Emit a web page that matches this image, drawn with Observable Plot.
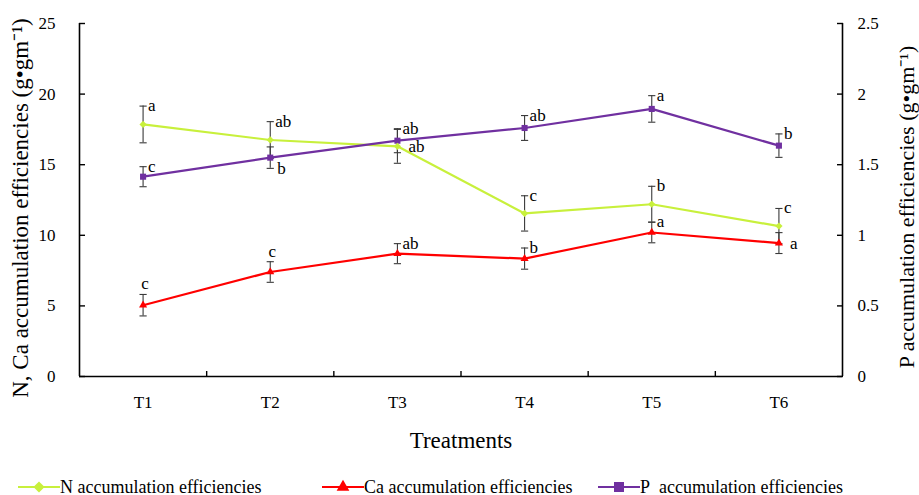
<!DOCTYPE html>
<html>
<head>
<meta charset="utf-8">
<script src="https://cdn.jsdelivr.net/npm/d3@7"></script>
<script src="https://cdn.jsdelivr.net/npm/@observablehq/plot@0.6"></script>
<style>
  html, body { margin: 0; padding: 0; background: #fff; }
  body { width: 919px; font-family: "Liberation Serif", "Times New Roman", serif; }
  #legend { position: relative; height: 33px; }
  .item { position: absolute; top: 15px; height: 20px; display: flex; align-items: center; font-size: 18px; color: #000; white-space: pre; }
  .item svg { display: block; }
</style>
</head>
<body>
<div id="chart"></div>
<div id="legend"></div>
<script>
// ---- data ----
const treatments = ["T1", "T2", "T3", "T4", "T5", "T6"];

const nValues  = [17.85, 16.75, 16.3, 11.55, 12.2, 10.65];
const nErrors  = [1.3, 1.3, 1.2, 1.25, 1.27, 1.25];
const nLetters = ["a", "ab", "ab", "c", "b", "c"];
const nPlaces  = ["topRight", "topRight", "right", "topRight", "topRight", "topRight"];

const caValues  = [5.05, 7.4, 8.7, 8.35, 10.2, 9.45];
const caErrors  = [0.76, 0.73, 0.71, 0.75, 0.73, 0.74];
const caLetters = ["c", "c", "ab", "b", "a", "a"];
const caPlaces  = ["top", "top", "topRight", "topRight", "topRight", "right"];

const pValues  = [1.415, 1.55, 1.67, 1.76, 1.895, 1.635];
const pErrors  = [0.071, 0.076, 0.085, 0.088, 0.094, 0.083];
const pLetters = ["c", "b", "ab", "ab", "a", "b"];
const pPlaces  = ["topRight", "bottomRight", "topRight", "topRight", "topRight", "topRight"];

const leftTicks  = [0, 5, 10, 15, 20, 25];
const rightTicks = [0, 0.5, 1, 1.5, 2, 2.5];

const seriesNames  = ["N", "Ca", "P"];
const seriesColors = ["#c8f03c", "#ff0000", "#7030a0"];
const seriesSymbols = ["diamond2", "triangle", "square"];
const legendLabels = ["N accumulation efficiencies", "Ca accumulation efficiencies", "P\u00a0 accumulation efficiencies"];

const leftTitle  = "N, Ca accumulation efficiencies (g\u2022gm\u207b\u00b9)";
const rightTitle = "P accumulation efficiencies (g\u2022gm\u207b\u00b9)";
const xTitle = "Treatments";

// ---- build table ----
const k = leftTicks[leftTicks.length - 1] / rightTicks[rightTicks.length - 1];
const series = [
  {key: "N",  values: nValues,  errors: nErrors,  letters: nLetters,  places: nPlaces,  f: 1},
  {key: "Ca", values: caValues, errors: caErrors, letters: caLetters, places: caPlaces, f: 1},
  {key: "P",  values: pValues,  errors: pErrors,  letters: pLetters,  places: pPlaces,  f: k}
];
const rows = series.flatMap(s => treatments.map((t, i) => ({
  t: i + 1, name: t, series: s.key,
  v: s.values[i] * s.f, e: s.errors[i] * s.f,
  letter: s.letters[i], place: s.places[i]
})));
const caps = rows.flatMap(d => [{t: d.t, y: d.v - d.e}, {t: d.t, y: d.v + d.e}]);
const boundaries = treatments.slice(1).map((t, i) => i + 1.5);

const capSymbol = {draw(ctx, size) { const r = Math.sqrt(size / Math.PI); ctx.moveTo(-r, 0); ctx.lineTo(r, 0); }};
const errColor = "#3a3a3a";
const font = "Liberation Serif";

const letterStyle = {x: "t", text: "letter", fontSize: 17, fill: "#000", fontFamily: font};

const chart = Plot.plot({
  width: 919, height: 462,
  marginLeft: 79, marginRight: 77, marginTop: 23, marginBottom: 86,
  style: {fontFamily: font, background: "#fff", color: "#000", overflow: "visible"},
  x: {domain: [0.5, treatments.length + 0.5], axis: null, label: null},
  y: {domain: [leftTicks[0], leftTicks[leftTicks.length - 1]], axis: null, label: null},
  color: {domain: seriesNames, range: seriesColors},
  symbol: {domain: seriesNames, range: seriesSymbols},
  marks: [
    // axis lines
    Plot.ruleY([leftTicks[0]], {stroke: "#000", strokeWidth: 1.6}),
    Plot.ruleX([0.5, treatments.length + 0.5], {stroke: "#000", strokeWidth: 1.6}),
    // inward ticks
    Plot.axisY({anchor: "left", ticks: leftTicks, tickSize: 6, dx: 6, tickFormat: () => "", label: null, stroke: "#000", strokeWidth: 1.4}),
    Plot.axisY({anchor: "right", ticks: leftTicks, tickSize: 6, dx: -6, tickFormat: () => "", label: null, stroke: "#000", strokeWidth: 1.4}),
    Plot.axisX({anchor: "bottom", ticks: boundaries, tickSize: 5, dy: -5, tickFormat: () => "", label: null, stroke: "#000", strokeWidth: 1.4}),
    // tick labels
    Plot.axisY({anchor: "left", ticks: leftTicks, tickSize: 0, tickPadding: 24, fontSize: 17, fill: "#000", label: null}),
    Plot.axisY({anchor: "right", ticks: leftTicks, tickSize: 0, tickPadding: 15, fontSize: 17, fill: "#000", label: null,
      tickFormat: d => String(+(d / k).toFixed(2))}),
    Plot.axisX({anchor: "bottom", ticks: treatments.map((t, i) => i + 1), tickSize: 0, tickPadding: 19, fontSize: 17, fill: "#000", label: null,
      tickFormat: d => treatments[d - 1]}),
    // titles
    Plot.text([leftTitle], {frameAnchor: "left", textAnchor: "middle", lineAnchor: "middle", dx: -59, dy: 8, rotate: -90, fontSize: 23, fill: "#000", fontFamily: font}),
    Plot.text([rightTitle], {frameAnchor: "right", textAnchor: "middle", lineAnchor: "middle", dx: 64, dy: 7, rotate: -90, fontSize: 22, fill: "#000", fontFamily: font}),
    Plot.text([xTitle], {frameAnchor: "bottom", textAnchor: "middle", dy: 64, lineAnchor: "middle", fontSize: 23, fill: "#000", fontFamily: font}),
    // error bars
    Plot.ruleX(rows, {x: "t", y1: d => d.v - d.e, y2: d => d.v + d.e, stroke: errColor, strokeWidth: 1.1}),
    Plot.dot(caps, {x: "t", y: "y", symbol: capSymbol, r: 3.6, fill: "none", stroke: errColor, strokeWidth: 1.1}),
    // lines
    Plot.line(rows, {x: "t", y: "v", z: "series", stroke: "series", strokeWidth: 2.2}),
    // markers
    Plot.dot(rows, {x: "t", y: "v", fill: "series", symbol: "series", r: d => d.series === "N" ? 6.4 : d.series === "Ca" ? 5.4 : 7.1, stroke: "none"}),
    // significance letters
    Plot.text(rows.filter(d => d.place === "topRight"), {...letterStyle, y: d => d.v + d.e, textAnchor: "start", lineAnchor: "bottom", dx: 5, dy: 5}),
    Plot.text(rows.filter(d => d.place === "top"), {...letterStyle, y: d => d.v + d.e, textAnchor: "middle", lineAnchor: "bottom", dx: 2, dy: -5}),
    Plot.text(rows.filter(d => d.place === "right"), {...letterStyle, y: "v", textAnchor: "start", lineAnchor: "middle", dx: 11}),
    Plot.text(rows.filter(d => d.place === "bottomRight"), {...letterStyle, y: d => d.v - d.e, textAnchor: "start", lineAnchor: "bottom", dx: 7, dy: 6})
  ]
});
document.getElementById("chart").appendChild(chart);

// ---- legend ----
const legendLefts = [18, 322, 598];
const legend = document.getElementById("legend");
seriesNames.forEach((name, i) => {
  const item = document.createElement("div");
  item.className = "item";
  item.style.left = legendLefts[i] + "px";
  const sym = d3.symbol(d3[{diamond2: "symbolDiamond2", triangle: "symbolTriangle", square: "symbolSquare"}[seriesSymbols[i]]], i === 0 ? 80 : i === 1 ? 70 : 100)();
  item.innerHTML = `<svg width="42" height="20"><line x1="0" x2="42" y1="10" y2="10" stroke="${seriesColors[i]}" stroke-width="2.2"/><path d="${sym}" transform="translate(21,10)" fill="${seriesColors[i]}"/></svg><span>${legendLabels[i]}</span>`;
  legend.appendChild(item);
});
</script>
</body>
</html>
